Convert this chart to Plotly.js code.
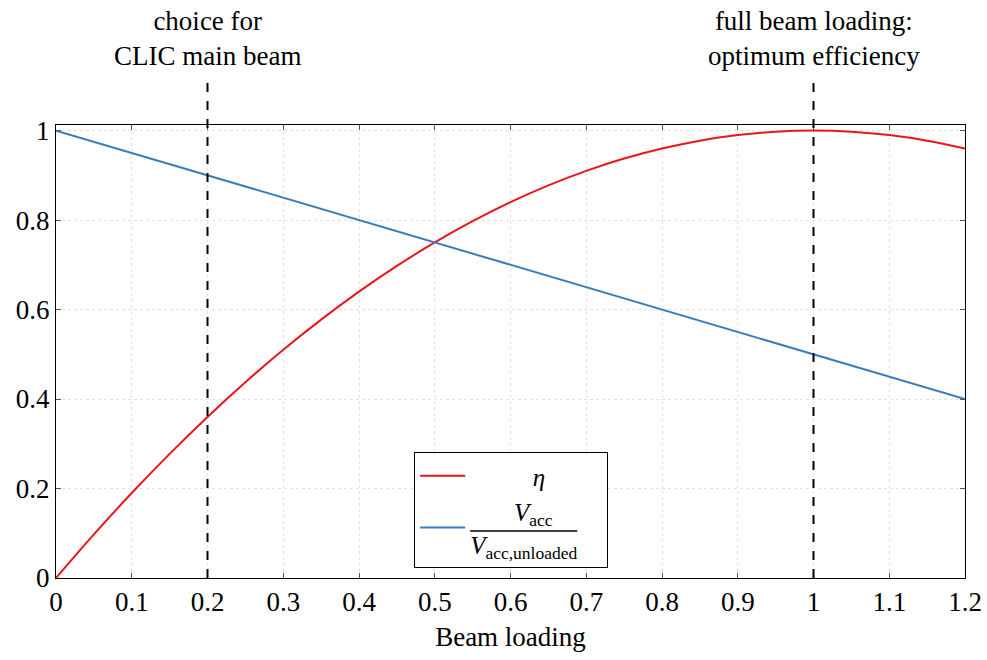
<!DOCTYPE html>
<html><head><meta charset="utf-8">
<script src="https://cdn.plot.ly/plotly-3.0.1.min.js"></script>
<style>body{margin:0;padding:0;background:#fff}#chart{width:987px;height:660px}</style>
</head><body><div id="chart"></div>
<script>
const beamLoading = [0,0.05,0.1,0.15,0.2,0.25,0.3,0.35,0.4,0.45,0.5,0.55,0.6,0.65,0.7,0.75,0.8,0.85,0.9,0.95,1.0,1.05,1.1,1.15,1.2];
const eta = [0,0.0975,0.19,0.2775,0.36,0.4375,0.51,0.5775,0.64,0.6975,0.75,0.7975,0.84,0.8775,0.91,0.9375,0.96,0.9775,0.99,0.9975,1.0,0.9975,0.99,0.9775,0.96];
const vRatioX = [0,1.2];
const vRatio = [1.0,0.4];
const markerX = [0.2,1.0];
const markerLabels = ["choice for<br>CLIC main beam","full beam loading:<br>optimum efficiency"];
const xTicks = [0,0.1,0.2,0.3,0.4,0.5,0.6,0.7,0.8,0.9,1,1.1,1.2];
const yTicks = [0,0.2,0.4,0.6,0.8,1];

const FAM = 'Liberation Serif';
const mk = (s)=>({family:FAM, size:s||27, color:'#000'});
const NB = '&nbsp;';
const traces = [
  {x:beamLoading, y:eta, mode:'lines', line:{color:'#e8161b', width:2, shape:'spline'}, name:NB.repeat(10)+'<i>η</i>'+NB.repeat(9)},
  {x:vRatioX, y:vRatio, mode:'lines', line:{color:'#3a7dbd', width:2}, name:NB.repeat(7)+'<i>V</i><sub>acc</sub><br><i>V</i><sub>acc,unloaded</sub>'}
];
const shapes = markerX.map(v=>({type:'line', xref:'x', yref:'paper', x0:v, x1:v, y0:0, y1:1.1, line:{color:'#000', width:2, dash:'dash'}}));
const annotations = markerX.map((v,i)=>({x:v, xref:'x', yref:'paper', y:1.115, yanchor:'bottom', text:markerLabels[i], showarrow:false, font:mk(27)}));
const layout = {
  width:987, height:660,
  margin:{l:56, r:22, t:125, b:82},
  paper_bgcolor:'#fff', plot_bgcolor:'#fff',
  font:mk(27),
  showlegend:true,
  legend:{x:0.394, y:0.278, xanchor:'left', yanchor:'top', bordercolor:'#000', borderwidth:1, bgcolor:'#fff', font:mk(25), itemwidth:45, tracegroupgap:0},
  xaxis:{range:[0,1.2], tickvals:xTicks, ticktext:xTicks.map(String), ticks:'inside', ticklen:5, tickcolor:'#555', mirror:'ticks', showline:true, linecolor:'#000', linewidth:1, showgrid:true, gridcolor:'#e2e2e2', griddash:'dot', zeroline:false, title:{text:'Beam loading', font:mk(27), standoff:10}, tickfont:mk(27)},
  yaxis:{range:[0,1.0125], tickvals:yTicks, ticktext:yTicks.map(String), ticks:'inside', ticklen:5, tickcolor:'#555', mirror:'ticks', showline:true, linecolor:'#000', linewidth:1, showgrid:true, gridcolor:'#e2e2e2', griddash:'dot', zeroline:false, tickfont:mk(27)},
  shapes:shapes, annotations:annotations
};
Plotly.newPlot('chart', traces, layout, {displayModeBar:false, staticPlot:true}).then(gd=>{
  const texts = gd.querySelectorAll('.legend .legendtext');
  if (texts.length>1) {
    const t = texts[1];
    const bb = t.getBBox();
    const lines = t.querySelectorAll('tspan.line');
    let w = bb.width;
    if (lines.length>1) { try { w = lines[1].getComputedTextLength(); } catch(e) {} }
    const ns='http://www.w3.org/2000/svg';
    const ln = document.createElementNS(ns,'line');
    const mid = bb.y + bb.height*0.5;
    ln.setAttribute('x1', bb.x); ln.setAttribute('x2', bb.x+w);
    ln.setAttribute('y1', mid); ln.setAttribute('y2', mid);
    ln.setAttribute('stroke','#000'); ln.setAttribute('stroke-width','1.5');
    t.parentNode.appendChild(ln);
  }
});
</script></body></html>
